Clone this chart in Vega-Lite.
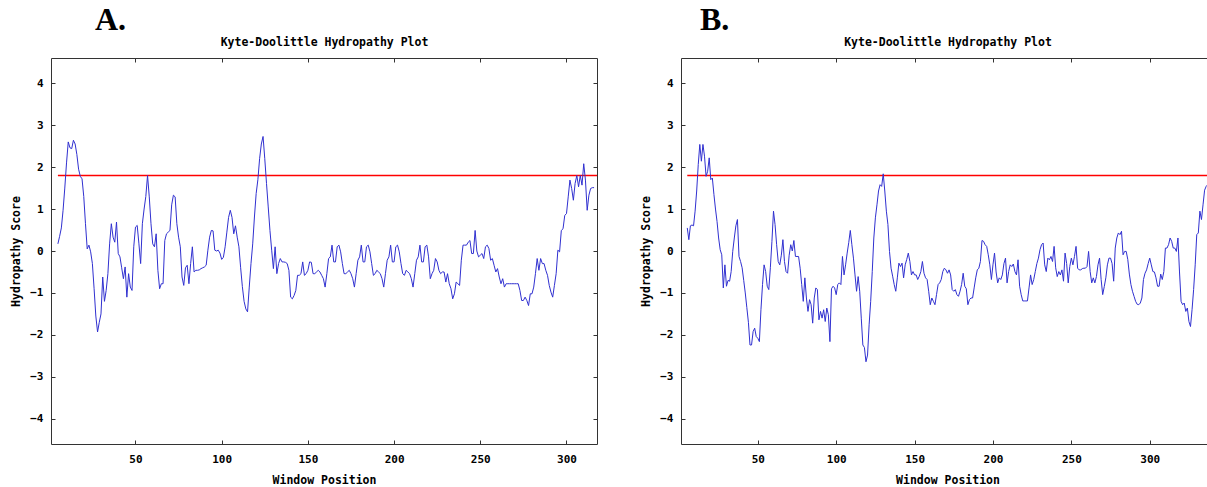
{
  "$schema": "https://vega.github.io/schema/vega-lite/v6.json",
  "padding": {"left": 10, "top": 4, "right": 0, "bottom": 0},
  "spacing": 40,
  "config": {
    "view": {"stroke": null},
    "axis": {"grid": false, "domainColor": "#333333", "tickColor": "#333333", "tickSize": -4, "labelFont": "DejaVu Sans Mono", "labelFontSize": 11, "labelFontWeight": "bold", "labelColor": "#000000", "titleFont": "DejaVu Sans Mono", "titleFontSize": 11.5, "titleFontWeight": "bold", "titleColor": "#000000"},
    "title": {"font": "Liberation Serif", "fontSize": 32, "fontWeight": "bold", "color": "#000000", "anchor": "start", "frame": "group", "offset": -1}
  },
  "datasets": {
    "a": [{"p":5,"v":0.17},{"p":6,"v":0.35},{"p":7,"v":0.55},{"p":8,"v":0.97},{"p":9,"v":1.5},{"p":10,"v":2.1},{"p":11,"v":2.6},{"p":12,"v":2.46},{"p":13,"v":2.44},{"p":14,"v":2.64},{"p":15,"v":2.55},{"p":16,"v":2.3},{"p":17,"v":1.95},{"p":18,"v":1.78},{"p":19,"v":1.72},{"p":20,"v":1.3},{"p":21,"v":0.65},{"p":22,"v":0.05},{"p":23,"v":0.14},{"p":24,"v":-0.02},{"p":25,"v":-0.3},{"p":26,"v":-0.9},{"p":27,"v":-1.55},{"p":28,"v":-1.93},{"p":29,"v":-1.7},{"p":30,"v":-1.5},{"p":31,"v":-0.62},{"p":32,"v":-1.2},{"p":33,"v":-0.94},{"p":34,"v":-0.54},{"p":35,"v":0.17},{"p":36,"v":0.65},{"p":37,"v":0.33},{"p":38,"v":0.21},{"p":39,"v":0.69},{"p":40,"v":-0.06},{"p":41,"v":-0.14},{"p":42,"v":-0.4},{"p":43,"v":-0.66},{"p":44,"v":-0.38},{"p":45,"v":-1.1},{"p":46,"v":-0.54},{"p":47,"v":-0.86},{"p":48,"v":-0.94},{"p":49,"v":0.1},{"p":50,"v":0.57},{"p":51,"v":0.61},{"p":52,"v":0.17},{"p":53,"v":-0.3},{"p":54,"v":0.65},{"p":55,"v":1.0},{"p":56,"v":1.3},{"p":57,"v":1.8},{"p":58,"v":1.29},{"p":59,"v":0.65},{"p":60,"v":0.17},{"p":61,"v":0.1},{"p":62,"v":0.41},{"p":63,"v":-0.46},{"p":64,"v":-0.9},{"p":65,"v":-0.78},{"p":66,"v":-0.78},{"p":67,"v":0.25},{"p":68,"v":0.41},{"p":69,"v":0.45},{"p":70,"v":0.49},{"p":71,"v":1.1},{"p":72,"v":1.33},{"p":73,"v":1.29},{"p":74,"v":0.65},{"p":75,"v":0.33},{"p":76,"v":0.1},{"p":77,"v":-0.62},{"p":78,"v":-0.82},{"p":79,"v":-0.4},{"p":80,"v":-0.34},{"p":81,"v":-0.78},{"p":82,"v":-0.3},{"p":83,"v":0.1},{"p":84,"v":-0.5},{"p":85,"v":-0.46},{"p":86,"v":-0.46},{"p":87,"v":-0.45},{"p":88,"v":-0.42},{"p":89,"v":-0.4},{"p":90,"v":-0.38},{"p":91,"v":-0.34},{"p":92,"v":0.02},{"p":93,"v":0.33},{"p":94,"v":0.49},{"p":95,"v":0.48},{"p":96,"v":0.02},{"p":97,"v":0.0},{"p":98,"v":0.02},{"p":99,"v":-0.05},{"p":100,"v":-0.2},{"p":101,"v":-0.15},{"p":102,"v":0.1},{"p":103,"v":0.45},{"p":104,"v":0.8},{"p":105,"v":0.97},{"p":106,"v":0.8},{"p":107,"v":0.41},{"p":108,"v":0.6},{"p":109,"v":0.33},{"p":110,"v":0.1},{"p":111,"v":-0.4},{"p":112,"v":-0.85},{"p":113,"v":-1.2},{"p":114,"v":-1.38},{"p":115,"v":-1.45},{"p":116,"v":-0.86},{"p":117,"v":-0.3},{"p":118,"v":0.17},{"p":119,"v":0.81},{"p":120,"v":1.37},{"p":121,"v":1.7},{"p":122,"v":2.2},{"p":123,"v":2.55},{"p":124,"v":2.73},{"p":125,"v":2.2},{"p":126,"v":1.61},{"p":127,"v":1.05},{"p":128,"v":0.49},{"p":129,"v":0.02},{"p":130,"v":-0.42},{"p":131,"v":0.1},{"p":132,"v":-0.54},{"p":133,"v":-0.3},{"p":134,"v":-0.18},{"p":135,"v":-0.26},{"p":136,"v":-0.26},{"p":137,"v":-0.27},{"p":138,"v":-0.3},{"p":139,"v":-0.46},{"p":140,"v":-1.1},{"p":141,"v":-1.14},{"p":142,"v":-1.06},{"p":143,"v":-0.94},{"p":144,"v":-0.58},{"p":145,"v":-0.58},{"p":146,"v":-0.54},{"p":147,"v":-0.26},{"p":148,"v":-0.58},{"p":149,"v":-0.54},{"p":150,"v":-0.46},{"p":151,"v":-0.26},{"p":152,"v":-0.27},{"p":153,"v":-0.54},{"p":154,"v":-0.54},{"p":155,"v":-0.5},{"p":156,"v":-0.46},{"p":157,"v":-0.5},{"p":158,"v":-0.58},{"p":159,"v":-0.66},{"p":160,"v":-0.86},{"p":161,"v":-0.54},{"p":162,"v":-0.18},{"p":163,"v":-0.14},{"p":164,"v":0.14},{"p":165,"v":-0.26},{"p":166,"v":-0.26},{"p":167,"v":0.1},{"p":168,"v":0.14},{"p":169,"v":-0.02},{"p":170,"v":-0.3},{"p":171,"v":-0.54},{"p":172,"v":-0.54},{"p":173,"v":-0.5},{"p":174,"v":-0.46},{"p":175,"v":-0.54},{"p":176,"v":-0.66},{"p":177,"v":-0.86},{"p":178,"v":-0.54},{"p":179,"v":-0.22},{"p":180,"v":-0.14},{"p":181,"v":0.14},{"p":182,"v":-0.26},{"p":183,"v":-0.26},{"p":184,"v":0.1},{"p":185,"v":0.14},{"p":186,"v":-0.02},{"p":187,"v":-0.3},{"p":188,"v":-0.58},{"p":189,"v":-0.54},{"p":190,"v":-0.46},{"p":191,"v":-0.5},{"p":192,"v":-0.54},{"p":193,"v":-0.66},{"p":194,"v":-0.86},{"p":195,"v":-0.54},{"p":196,"v":-0.22},{"p":197,"v":-0.14},{"p":198,"v":0.14},{"p":199,"v":-0.26},{"p":200,"v":-0.26},{"p":201,"v":0.1},{"p":202,"v":0.14},{"p":203,"v":-0.02},{"p":204,"v":-0.3},{"p":205,"v":-0.54},{"p":206,"v":-0.58},{"p":207,"v":-0.46},{"p":208,"v":-0.5},{"p":209,"v":-0.54},{"p":210,"v":-0.66},{"p":211,"v":-0.86},{"p":212,"v":-0.54},{"p":213,"v":-0.22},{"p":214,"v":-0.14},{"p":215,"v":0.14},{"p":216,"v":-0.26},{"p":217,"v":-0.26},{"p":218,"v":0.1},{"p":219,"v":0.14},{"p":220,"v":-0.14},{"p":221,"v":-0.66},{"p":222,"v":-0.54},{"p":223,"v":-0.46},{"p":224,"v":-0.18},{"p":225,"v":-0.26},{"p":226,"v":-0.46},{"p":227,"v":-0.54},{"p":228,"v":-0.5},{"p":229,"v":-0.5},{"p":230,"v":-0.74},{"p":231,"v":-0.54},{"p":232,"v":-0.78},{"p":233,"v":-0.9},{"p":234,"v":-1.14},{"p":235,"v":-1.02},{"p":236,"v":-0.74},{"p":237,"v":-0.78},{"p":238,"v":-0.82},{"p":239,"v":-0.22},{"p":240,"v":0.14},{"p":241,"v":0.14},{"p":242,"v":0.14},{"p":243,"v":0.21},{"p":244,"v":0.25},{"p":245,"v":-0.06},{"p":246,"v":-0.06},{"p":247,"v":0.49},{"p":248,"v":0.0},{"p":249,"v":-0.14},{"p":250,"v":-0.1},{"p":251,"v":-0.06},{"p":252,"v":-0.18},{"p":253,"v":0.1},{"p":254,"v":0.14},{"p":255,"v":0.06},{"p":256,"v":-0.22},{"p":257,"v":-0.18},{"p":258,"v":-0.34},{"p":259,"v":-0.5},{"p":260,"v":-0.42},{"p":261,"v":-0.62},{"p":262,"v":-0.78},{"p":263,"v":-0.66},{"p":264,"v":-0.86},{"p":265,"v":-0.78},{"p":266,"v":-0.78},{"p":267,"v":-0.78},{"p":268,"v":-0.78},{"p":269,"v":-0.78},{"p":270,"v":-0.78},{"p":271,"v":-0.78},{"p":272,"v":-0.78},{"p":273,"v":-0.94},{"p":274,"v":-1.18},{"p":275,"v":-1.18},{"p":276,"v":-1.1},{"p":277,"v":-1.18},{"p":278,"v":-1.3},{"p":279,"v":-1.02},{"p":280,"v":-1.02},{"p":281,"v":-0.86},{"p":282,"v":-0.54},{"p":283,"v":-0.18},{"p":284,"v":-0.46},{"p":285,"v":-0.18},{"p":286,"v":-0.3},{"p":287,"v":-0.3},{"p":288,"v":-0.46},{"p":289,"v":-0.58},{"p":290,"v":-0.82},{"p":291,"v":-0.98},{"p":292,"v":-1.1},{"p":293,"v":-0.82},{"p":294,"v":-0.54},{"p":295,"v":0.02},{"p":296,"v":-0.02},{"p":297,"v":0.49},{"p":298,"v":0.53},{"p":299,"v":0.85},{"p":300,"v":0.89},{"p":301,"v":1.29},{"p":302,"v":1.69},{"p":303,"v":1.49},{"p":304,"v":1.21},{"p":305,"v":1.61},{"p":306,"v":1.8},{"p":307,"v":1.53},{"p":308,"v":1.8},{"p":309,"v":1.57},{"p":310,"v":2.08},{"p":311,"v":1.69},{"p":312,"v":0.97},{"p":313,"v":1.33},{"p":314,"v":1.49},{"p":315,"v":1.51},{"p":316,"v":1.51}],
    "b": [{"p":5,"v":0.55},{"p":6,"v":0.27},{"p":7,"v":0.6},{"p":8,"v":0.62},{"p":9,"v":0.6},{"p":10,"v":0.95},{"p":11,"v":1.43},{"p":12,"v":2.06},{"p":13,"v":2.54},{"p":14,"v":2.14},{"p":15,"v":2.54},{"p":16,"v":2.26},{"p":17,"v":1.78},{"p":18,"v":1.9},{"p":19,"v":2.22},{"p":20,"v":1.7},{"p":21,"v":1.74},{"p":22,"v":1.35},{"p":23,"v":1.0},{"p":24,"v":0.7},{"p":25,"v":0.31},{"p":26,"v":0.03},{"p":27,"v":-0.09},{"p":28,"v":-0.88},{"p":29,"v":-0.33},{"p":30,"v":-0.84},{"p":31,"v":-0.7},{"p":32,"v":-0.72},{"p":33,"v":-0.49},{"p":34,"v":-0.01},{"p":35,"v":0.31},{"p":36,"v":0.6},{"p":37,"v":0.75},{"p":38,"v":-0.13},{"p":39,"v":-0.25},{"p":40,"v":-0.4},{"p":41,"v":-0.7},{"p":42,"v":-1.0},{"p":43,"v":-1.35},{"p":44,"v":-1.7},{"p":45,"v":-2.24},{"p":46,"v":-2.24},{"p":47,"v":-1.92},{"p":48,"v":-1.84},{"p":49,"v":-2.04},{"p":50,"v":-2.08},{"p":51,"v":-2.16},{"p":52,"v":-1.4},{"p":53,"v":-0.8},{"p":54,"v":-0.33},{"p":55,"v":-0.49},{"p":56,"v":-0.84},{"p":57,"v":-0.92},{"p":58,"v":-0.4},{"p":59,"v":0.23},{"p":60,"v":0.95},{"p":61,"v":0.63},{"p":62,"v":0.15},{"p":63,"v":-0.25},{"p":64,"v":-0.33},{"p":65,"v":-0.1},{"p":66,"v":0.27},{"p":67,"v":-0.25},{"p":68,"v":-0.49},{"p":69,"v":-0.53},{"p":70,"v":-0.1},{"p":71,"v":0.15},{"p":72,"v":0.0},{"p":73,"v":0.25},{"p":74,"v":-0.13},{"p":75,"v":-0.13},{"p":76,"v":-0.13},{"p":77,"v":-0.41},{"p":78,"v":-0.8},{"p":79,"v":-1.2},{"p":80,"v":-0.64},{"p":81,"v":-1.12},{"p":82,"v":-1.44},{"p":83,"v":-1.16},{"p":84,"v":-1.28},{"p":85,"v":-1.72},{"p":86,"v":-1.12},{"p":87,"v":-0.88},{"p":88,"v":-0.92},{"p":89,"v":-1.64},{"p":90,"v":-1.44},{"p":91,"v":-1.6},{"p":92,"v":-1.4},{"p":93,"v":-1.68},{"p":94,"v":-1.36},{"p":95,"v":-1.52},{"p":96,"v":-2.16},{"p":97,"v":-0.9},{"p":98,"v":-0.84},{"p":99,"v":-0.88},{"p":100,"v":-1.04},{"p":101,"v":-0.8},{"p":102,"v":-0.76},{"p":103,"v":-0.8},{"p":104,"v":-0.13},{"p":105,"v":-0.57},{"p":106,"v":-0.33},{"p":107,"v":-0.05},{"p":108,"v":0.2},{"p":109,"v":0.49},{"p":110,"v":0.15},{"p":111,"v":-0.17},{"p":112,"v":-0.57},{"p":113,"v":-0.96},{"p":114,"v":-0.61},{"p":115,"v":-0.96},{"p":116,"v":-1.6},{"p":117,"v":-2.24},{"p":118,"v":-2.3},{"p":119,"v":-2.64},{"p":120,"v":-2.48},{"p":121,"v":-1.76},{"p":122,"v":-1.2},{"p":123,"v":-0.49},{"p":124,"v":0.31},{"p":125,"v":0.79},{"p":126,"v":1.1},{"p":127,"v":1.43},{"p":128,"v":1.58},{"p":129,"v":1.54},{"p":130,"v":1.84},{"p":131,"v":1.43},{"p":132,"v":0.95},{"p":133,"v":0.63},{"p":134,"v":-0.01},{"p":135,"v":-0.41},{"p":136,"v":-0.6},{"p":137,"v":-0.8},{"p":138,"v":-0.96},{"p":139,"v":-0.64},{"p":140,"v":-0.29},{"p":141,"v":-0.37},{"p":142,"v":-0.29},{"p":143,"v":-0.64},{"p":144,"v":-0.33},{"p":145,"v":-0.2},{"p":146,"v":-0.05},{"p":147,"v":-0.25},{"p":148,"v":-0.57},{"p":149,"v":-0.49},{"p":150,"v":-0.57},{"p":151,"v":-0.57},{"p":152,"v":-0.68},{"p":153,"v":-0.6},{"p":154,"v":-0.49},{"p":155,"v":-0.25},{"p":156,"v":-0.53},{"p":157,"v":-0.64},{"p":158,"v":-0.68},{"p":159,"v":-0.96},{"p":160,"v":-1.28},{"p":161,"v":-1.12},{"p":162,"v":-1.2},{"p":163,"v":-1.28},{"p":164,"v":-1.04},{"p":165,"v":-0.8},{"p":166,"v":-0.76},{"p":167,"v":-0.68},{"p":168,"v":-0.49},{"p":169,"v":-0.41},{"p":170,"v":-0.45},{"p":171,"v":-0.53},{"p":172,"v":-0.45},{"p":173,"v":-0.57},{"p":174,"v":-0.92},{"p":175,"v":-0.96},{"p":176,"v":-0.92},{"p":177,"v":-1.04},{"p":178,"v":-1.08},{"p":179,"v":-0.96},{"p":180,"v":-0.8},{"p":181,"v":-0.53},{"p":182,"v":-0.84},{"p":183,"v":-0.9},{"p":184,"v":-1.28},{"p":185,"v":-1.16},{"p":186,"v":-1.12},{"p":187,"v":-1.12},{"p":188,"v":-0.88},{"p":189,"v":-0.64},{"p":190,"v":-0.45},{"p":191,"v":-0.41},{"p":192,"v":-0.25},{"p":193,"v":0.25},{"p":194,"v":0.23},{"p":195,"v":0.15},{"p":196,"v":0.11},{"p":197,"v":-0.09},{"p":198,"v":-0.33},{"p":199,"v":-0.68},{"p":200,"v":-0.33},{"p":201,"v":-0.05},{"p":202,"v":-0.5},{"p":203,"v":-0.76},{"p":204,"v":-0.64},{"p":205,"v":-0.68},{"p":206,"v":-0.57},{"p":207,"v":-0.3},{"p":208,"v":-0.17},{"p":209,"v":-0.76},{"p":210,"v":-0.49},{"p":211,"v":-0.33},{"p":212,"v":-0.37},{"p":213,"v":-0.31},{"p":214,"v":-0.49},{"p":215,"v":-0.57},{"p":216,"v":-0.21},{"p":217,"v":-0.84},{"p":218,"v":-1.04},{"p":219,"v":-1.19},{"p":220,"v":-1.19},{"p":221,"v":-1.19},{"p":222,"v":-1.19},{"p":223,"v":-0.88},{"p":224,"v":-0.57},{"p":225,"v":-0.8},{"p":226,"v":-0.68},{"p":227,"v":-0.49},{"p":228,"v":-0.3},{"p":229,"v":-0.17},{"p":230,"v":0.03},{"p":231,"v":0.15},{"p":232,"v":0.19},{"p":233,"v":-0.33},{"p":234,"v":-0.49},{"p":235,"v":-0.17},{"p":236,"v":-0.21},{"p":237,"v":-0.13},{"p":238,"v":-0.25},{"p":239,"v":0.11},{"p":240,"v":-0.4},{"p":241,"v":-0.61},{"p":242,"v":-0.49},{"p":243,"v":-0.57},{"p":244,"v":-0.45},{"p":245,"v":-0.72},{"p":246,"v":-0.05},{"p":247,"v":-0.3},{"p":248,"v":-0.76},{"p":249,"v":-0.37},{"p":250,"v":-0.17},{"p":251,"v":-0.33},{"p":252,"v":-0.13},{"p":253,"v":0.11},{"p":254,"v":-0.41},{"p":255,"v":-0.45},{"p":256,"v":-0.45},{"p":257,"v":-0.42},{"p":258,"v":-0.41},{"p":259,"v":-0.41},{"p":260,"v":-0.37},{"p":261,"v":-0.01},{"p":262,"v":-0.49},{"p":263,"v":-0.76},{"p":264,"v":-0.64},{"p":265,"v":-0.76},{"p":266,"v":-0.61},{"p":267,"v":-0.33},{"p":268,"v":-0.17},{"p":269,"v":-0.68},{"p":270,"v":-1.04},{"p":271,"v":-0.85},{"p":272,"v":-0.64},{"p":273,"v":-0.33},{"p":274,"v":-0.17},{"p":275,"v":-0.17},{"p":276,"v":-0.3},{"p":277,"v":-0.72},{"p":278,"v":0.07},{"p":279,"v":0.31},{"p":280,"v":0.43},{"p":281,"v":0.39},{"p":282,"v":0.47},{"p":283,"v":-0.09},{"p":284,"v":-0.01},{"p":285,"v":-0.01},{"p":286,"v":-0.2},{"p":287,"v":-0.55},{"p":288,"v":-0.8},{"p":289,"v":-0.96},{"p":290,"v":-1.08},{"p":291,"v":-1.2},{"p":292,"v":-1.27},{"p":293,"v":-1.28},{"p":294,"v":-1.24},{"p":295,"v":-1.12},{"p":296,"v":-0.68},{"p":297,"v":-0.53},{"p":298,"v":-0.45},{"p":299,"v":-0.3},{"p":300,"v":-0.17},{"p":301,"v":-0.33},{"p":302,"v":-0.49},{"p":303,"v":-0.5},{"p":304,"v":-0.64},{"p":305,"v":-0.84},{"p":306,"v":-0.84},{"p":307,"v":-0.55},{"p":308,"v":-0.68},{"p":309,"v":-0.49},{"p":310,"v":0.07},{"p":311,"v":0.07},{"p":312,"v":0.15},{"p":313,"v":0.31},{"p":314,"v":0.23},{"p":315,"v":0.07},{"p":316,"v":0.07},{"p":317,"v":-0.01},{"p":318,"v":0.31},{"p":319,"v":-0.5},{"p":320,"v":-1.2},{"p":321,"v":-1.28},{"p":322,"v":-1.24},{"p":323,"v":-1.44},{"p":324,"v":-1.36},{"p":325,"v":-1.68},{"p":326,"v":-1.8},{"p":327,"v":-1.4},{"p":328,"v":-0.92},{"p":329,"v":-0.33},{"p":330,"v":0.39},{"p":331,"v":0.43},{"p":332,"v":0.95},{"p":333,"v":0.75},{"p":334,"v":1.1},{"p":335,"v":1.45},{"p":336,"v":1.54},{"p":337,"v":1.58},{"p":338,"v":1.78},{"p":339,"v":2.46},{"p":340,"v":1.94}]
  },
  "hconcat": [
    {
      "title": {"text": "A.", "dx": 44},
      "width": 546,
      "height": 386,
      "layer": [
        {
          "data": {"values": [{"p": 5, "t": 1.8}, {"p": 317.7, "t": 1.8}]},
          "mark": {"type": "line", "strokeWidth": 1.5},
          "encoding": {
            "x": {"field": "p", "type": "quantitative", "scale": {"domain": [1, 317.7], "nice": false, "zero": false}, "axis": {"orient": "top", "values": [50, 100, 150, 200, 250, 300], "labels": false, "title": "Kyte-Doolittle Hydropathy Plot", "titlePadding": 10.3}},
            "y": {"field": "t", "type": "quantitative", "scale": {"domain": [-4.6, 4.6], "nice": false, "zero": false}, "axis": {"orient": "right", "values": [-4, -3, -2, -1, 0, 1, 2, 3, 4], "labels": false, "title": null}},
            "stroke": {"value": "#ff0000"}
          }
        },
        {
          "data": {"name": "a"},
          "mark": {"type": "line", "color": "#3030d0", "strokeWidth": 1},
          "encoding": {
            "x": {"field": "p", "type": "quantitative", "axis": {"orient": "bottom", "values": [50, 100, 150, 200, 250, 300], "title": "Window Position", "labelPadding": 13.5, "titlePadding": 9.5}},
            "y": {"field": "v", "type": "quantitative", "axis": {"orient": "left", "values": [-4, -3, -2, -1, 0, 1, 2, 3, 4], "title": "Hydropathy Score", "labelPadding": 12, "titlePadding": 8}}
          }
        }
      ],
      "resolve": {"axis": {"x": "independent", "y": "independent"}}
    },
    {
      "title": {"text": "B.", "dx": 19},
      "width": 533,
      "height": 386,
      "layer": [
        {
          "data": {"values": [{"p": 5, "t": 1.8}, {"p": 341, "t": 1.8}]},
          "mark": {"type": "line", "strokeWidth": 1.5},
          "encoding": {
            "x": {"field": "p", "type": "quantitative", "scale": {"domain": [1, 341], "nice": false, "zero": false}, "axis": {"orient": "top", "values": [50, 100, 150, 200, 250, 300], "labels": false, "title": "Kyte-Doolittle Hydropathy Plot", "titlePadding": 10.3}},
            "y": {"field": "t", "type": "quantitative", "scale": {"domain": [-4.6, 4.6], "nice": false, "zero": false}, "axis": {"orient": "right", "values": [-4, -3, -2, -1, 0, 1, 2, 3, 4], "labels": false, "title": null}},
            "stroke": {"value": "#ff0000"}
          }
        },
        {
          "data": {"name": "b"},
          "mark": {"type": "line", "color": "#3030d0", "strokeWidth": 1},
          "encoding": {
            "x": {"field": "p", "type": "quantitative", "axis": {"orient": "bottom", "values": [50, 100, 150, 200, 250, 300], "title": "Window Position", "labelPadding": 13.5, "titlePadding": 9.5}},
            "y": {"field": "v", "type": "quantitative", "axis": {"orient": "left", "values": [-4, -3, -2, -1, 0, 1, 2, 3, 4], "title": "Hydropathy Score", "labelPadding": 12, "titlePadding": 8}}
          }
        }
      ],
      "resolve": {"axis": {"x": "independent", "y": "independent"}}
    }
  ]
}
